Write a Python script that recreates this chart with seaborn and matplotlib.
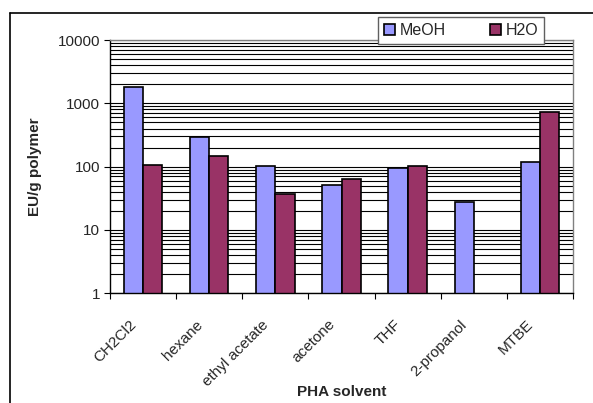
import numpy as np
import pandas as pd
import seaborn as sns
import matplotlib
matplotlib.use("Agg")
import matplotlib.pyplot as plt
import matplotlib.transforms as mtransforms
from matplotlib.patches import Patch
from matplotlib.lines import Line2D
from matplotlib.ticker import LogLocator, FixedLocator, FuncFormatter, NullFormatter

categories = ["CH2Cl2", "hexane", "ethyl acetate", "acetone", "THF", "2-propanol", "MTBE"]
meoh = [1790, 295, 102, 51, 96, 28, 118]
h2o = [107, 147, 37, 64, 102, np.nan, 740]
series = ["MeOH", "H2O"]
colors = ["#9999FF", "#993366"]

df = pd.DataFrame({
    "solvent": categories * 2,
    "series": [series[0]] * len(categories) + [series[1]] * len(categories),
    "value": meoh + h2o,
})

sns.set_style("white")
plt.rcParams["font.family"] = ["Liberation Sans", "DejaVu Sans"]

W, H = 593, 403
FS = 11
fig = plt.figure(figsize=(W / 100, H / 100), dpi=100)
ax = fig.add_axes([110 / W, 1 - 293.3 / H, (573 - 110) / W, (293.3 - 40) / H])

sns.barplot(data=df, x="solvent", y="value", hue="series", order=categories,
            hue_order=series, palette=colors, width=0.58, edgecolor="black",
            linewidth=1.2, saturation=1, ax=ax, legend=False, errorbar=None, log_scale=(False, True))

ax.set_yscale("log")
ax.set_ylim(1, 10000)
ax.set_xlim(-0.5, len(categories) - 0.5)

ax.yaxis.set_major_locator(LogLocator(base=10, numticks=10))
ax.yaxis.set_minor_locator(LogLocator(base=10, subs=np.arange(2, 10), numticks=20))
ax.yaxis.set_major_formatter(FuncFormatter(lambda v, p: f"{int(round(v))}"))
ax.yaxis.set_minor_formatter(NullFormatter())
ax.set_axisbelow(True)
ax.grid(True, axis="y", which="both", color="black", linewidth=0.8)
ax.grid(False, axis="x")

ax.tick_params(axis="y", which="major", length=4, width=0.8, color="black", direction="out",
               labelsize=FS, pad=3, left=True)
ax.tick_params(axis="y", which="minor", length=0)

# category ticks at boundaries
ax.xaxis.set_minor_locator(FixedLocator(np.arange(-0.5, len(categories), 1.0)))
ax.tick_params(axis="x", which="minor", length=4, width=0.8, color="black", direction="out", bottom=True)
ax.tick_params(axis="x", which="major", length=0, labelsize=FS, pad=0)
ax.set_xticks(range(len(categories)))
ax.set_xticklabels(categories, rotation=45, ha="right", va="center", rotation_mode="anchor")
offset = mtransforms.ScaledTranslation(-9 / 100, -29 / 100, fig.dpi_scale_trans)
for lbl in ax.get_xticklabels():
    lbl.set_transform(lbl.get_transform() + offset)

for s in ["left", "bottom"]:
    ax.spines[s].set_color("black")
    ax.spines[s].set_linewidth(1.0)
for s in ["top", "right"]:
    ax.spines[s].set_color("#808080")
    ax.spines[s].set_linewidth(1.0)
    ax.spines[s].set_visible(True)

ax.set_xlabel("PHA solvent", fontsize=FS, fontweight="bold")
ax.set_ylabel("EU/g polymer", fontsize=FS, fontweight="bold")
ax.xaxis.set_label_coords(0.5, -(392 - 293.3) / (293.3 - 40), transform=ax.transAxes)
ax.xaxis.label.set_verticalalignment("center")
ax.yaxis.set_label_coords(-75 / (573 - 110), 0.5, transform=ax.transAxes)
ax.yaxis.label.set_verticalalignment("center")

handles = [Patch(facecolor=c, edgecolor="black", linewidth=1.2, label=l) for c, l in zip(colors, series)]
leg = fig.legend(handles=handles, loc="center", ncol=2,
                 bbox_to_anchor=((378 + 544) / 2 / W, 1 - (17 + 44) / 2 / H),
                 frameon=True, fancybox=False, edgecolor="#606060", facecolor="white", framealpha=1,
                 fontsize=11.5, handlelength=0.7, handleheight=0.7, handletextpad=0.25,
                 columnspacing=2.8, borderpad=0.4, borderaxespad=0)
leg.get_frame().set_linewidth(1.0)

fig.add_artist(Line2D([10 / W, 1], [1 - 13 / H, 1 - 13 / H], color="black", linewidth=1.2,
                      transform=fig.transFigure))
fig.add_artist(Line2D([10 / W, 10 / W], [0, 1 - 13 / H], color="black", linewidth=1.2,
                      transform=fig.transFigure))

fig.savefig("out.png", dpi=100)
